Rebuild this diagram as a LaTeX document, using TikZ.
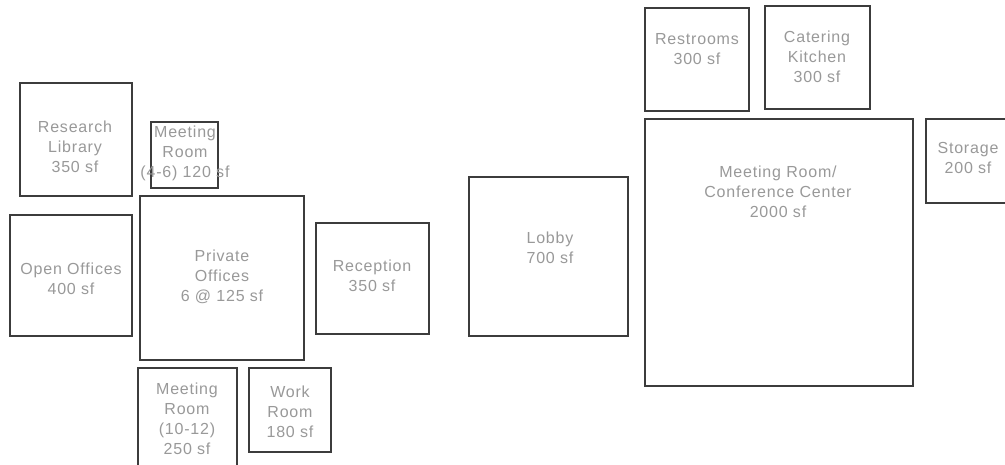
\documentclass[tikz,border=0pt]{standalone}
\usepackage{fontspec}
\setmainfont{Liberation Sans}[LetterSpace=5]
\definecolor{linegray}{HTML}{3C3C3C}
\definecolor{txtgray}{HTML}{999999}
\begin{document}
\begin{tikzpicture}[x=1pt,y=-1pt,
  room/.style={draw=linegray,line width=1.1pt,inner sep=0pt,outer sep=0pt,anchor=north west},
  lbl/.style={text=txtgray,align=center,inner sep=0pt,font=\fontsize{16}{20}\selectfont}]
\useasboundingbox[fill=white] (0,0) rectangle (1005,464);
% rooms: anchor at top-left corner
\node[room,minimum width=112pt,minimum height=113pt] (lib) at (20,83) {};
\node[room,minimum width=67pt,minimum height=66pt] (mrs) at (151,122) {};
\node[room,minimum width=122pt,minimum height=121pt] (open) at (10,215) {};
\node[room,minimum width=164pt,minimum height=164pt] (priv) at (140,196) {};
\node[room,minimum width=113pt,minimum height=111pt] (recep) at (316,223) {};
\node[room,minimum width=99pt,minimum height=102pt] (mrl) at (138,368) {};
\node[room,minimum width=82pt,minimum height=84pt] (work) at (249,368) {};
\node[room,minimum width=159pt,minimum height=159pt] (lobby) at (469,177) {};
\node[room,minimum width=104pt,minimum height=103pt] (rest) at (645,8) {};
\node[room,minimum width=105pt,minimum height=103pt] (cater) at (765,6) {};
\node[room,minimum width=268pt,minimum height=267pt] (conf) at (645,119) {};
\node[room,minimum width=90pt,minimum height=84pt] (stor) at (926,119) {};
% labels
\node[lbl] (libt) at (75,147) {Research\\Library\\350 sf};
\node[lbl] (mrst) at (185,153) {Meeting\\Room\\(4-6) 120 sf};
\node[lbl] (opent) at (71,279) {Open Offices\\400 sf};
\node[lbl] (privt) at (222,277) {Private\\Offices\\6 @ 125 sf};
\node[lbl] (recept) at (372,276) {Reception\\350 sf};
\node[lbl] (mrlt) at (187,419) {Meeting\\Room\\(10-12)\\250 sf};
\node[lbl] (workt) at (290,412) {Work\\Room\\180 sf};
\node[lbl] (lobbyt) at (550,248) {Lobby\\700 sf};
\node[lbl] (restt) at (697,49) {Restrooms\\300 sf};
\node[lbl] (catert) at (817,57) {Catering\\Kitchen\\300 sf};
\node[lbl] (conft) at (778,192) {Meeting Room/\\Conference Center\\2000 sf};
\node[lbl] (stort) at (968,158) {Storage\\200 sf};
\end{tikzpicture}
\end{document}
